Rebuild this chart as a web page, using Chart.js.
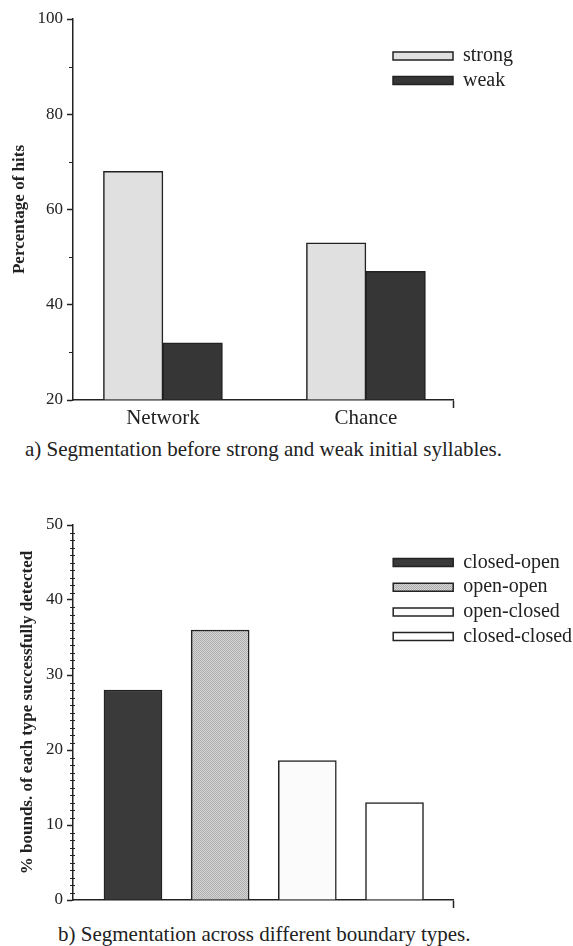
<!DOCTYPE html>
<html>
<head>
<meta charset="utf-8">
<script src="https://cdn.jsdelivr.net/npm/chart.js@4.4.1/dist/chart.umd.min.js"></script>
<style>
  body { margin: 0; background: #fff; }
  #page { position: relative; width: 573px; height: 946px; overflow: hidden; font-family: 'Liberation Serif', 'Times New Roman', serif; color: #222; }
  canvas { position: absolute; left: 0; }
  .caption { position: absolute; font-size: 21px; line-height: 25px; white-space: nowrap; z-index: 2; }
</style>
</head>
<body>
<div id="page">
  <canvas id="hitsChart" width="573" height="436" style="top:0"></canvas>
  <canvas id="boundsChart" width="573" height="440" style="top:480px"></canvas>
  <div class="caption" style="left:25px; top:437px">a) Segmentation before strong and weak initial syllables.</div>
  <div class="caption" style="left:58px; top:922px">b) Segmentation across different boundary types.</div>
</div>
<script>
// a) hits before strong / weak initial syllables
const hitCategories = ['Network', 'Chance'];
const strongHits = [68, 53];
const weakHits = [32, 47];
const hitTicks = [20, 40, 60, 80, 100];

// b) boundaries detected per type
const boundaryTypes = ['closed-open', 'open-open', 'open-closed', 'closed-closed'];
const boundsDetected = [28, 36, 18.6, 13];
const boundTicks = [0, 10, 20, 30, 40, 50];

const ink = '#222';
Chart.defaults.font.family = "'Liberation Serif', 'Times New Roman', serif";
Chart.defaults.color = ink;
Chart.defaults.animation = false;

// fine grey stipple like the scanned open-open bar
function stipple() {
  const c = document.createElement('canvas');
  c.width = 2; c.height = 2;
  const g = c.getContext('2d');
  g.fillStyle = '#d6d6d6'; g.fillRect(0, 0, 2, 2);
  g.fillStyle = '#adadad';
  g.fillRect(0, 0, 1, 1); g.fillRect(1, 1, 1, 1);
  return g.createPattern(c, 'repeat');
}
const boundFills = ['#3a3a3a', stipple(), '#fbfbfb', '#ffffff'];

// move the legend into the upper right of the plot
const placeLegend = {
  id: 'placeLegend',
  afterLayout(chart, args, opts) {
    const lg = chart.legend;
    lg.left = opts.left; lg.top = opts.top;
    lg.width = 190; lg.height = 120;
    lg.right = lg.left + 190; lg.bottom = lg.top + 120;
  }
};

// small unlabelled ticks on the value axis
const minorTicks = {
  id: 'minorTicks',
  afterDraw(chart, args, opts) {
    const y = chart.scales.y, ctx = chart.ctx, x0 = chart.chartArea.left;
    ctx.save();
    ctx.strokeStyle = ink;
    ctx.lineWidth = 1;
    for (let v = y.min; v <= y.max; v += opts.step) {
      if (v % opts.major === 0) continue;
      const py = Math.round(y.getPixelForValue(v)) + 0.5;
      ctx.beginPath();
      ctx.moveTo(x0 - opts.out, py);
      ctx.lineTo(x0 + opts.inside, py);
      ctx.stroke();
    }
    ctx.restore();
  }
};

function endTickColor(c) {
  return c.tick && c.tick.value === c.scale.max ? ink : 'rgba(0,0,0,0)';
}

function valueAxis(min, max, ticks, title, titlePad) {
  return {
    min: min, max: max,
    afterBuildTicks: s => { s.ticks = ticks.map(v => ({value: v})); },
    afterFit: s => { s.width = 73; },
    ticks: { padding: 4, font: {size: 17} },
    grid: { drawOnChartArea: false, tickLength: 6, tickWidth: 1.5, tickColor: ink },
    border: { color: ink, width: 1.5 },
    title: { display: true, text: title, font: {size: 17, weight: 'bold'}, padding: {top: titlePad, bottom: 0} }
  };
}

function legendOpts(pad) {
  return {
    position: 'chartArea', align: 'start',
    labels: { boxWidth: 60, boxHeight: 8, padding: pad, font: {size: 20}, color: ink }
  };
}

new Chart(document.getElementById('hitsChart'), {
  type: 'bar',
  data: {
    datasets: [
      { label: 'strong', data: hitCategories.map((c, i) => ({x: i, y: strongHits[i]})),
        backgroundColor: '#e0e0e0', borderColor: ink, borderWidth: 1.5, barThickness: 59.5, base: 20 },
      { label: 'weak', data: hitCategories.map((c, i) => ({x: i, y: weakHits[i]})),
        backgroundColor: '#363636', borderColor: ink, borderWidth: 1.5, barThickness: 59.5, base: 20 }
    ]
  },
  options: {
    responsive: false,
    devicePixelRatio: 1,
    layout: { padding: {top: 19, right: 120, bottom: 0, left: 0} },
    scales: {
      x: {
        type: 'linear', min: -0.443, max: 1.429, offset: false,
        afterBuildTicks: s => { s.ticks = hitCategories.map((c, i) => ({value: i})).concat({value: s.max}); },
        afterFit: s => { s.height = 36; },
        ticks: { autoSkip: false, maxRotation: 0, padding: 0, font: {size: 21, lineHeight: 1},
                 callback: v => hitCategories[v] ?? '' },
        grid: { offset: false, drawOnChartArea: false, tickLength: 8, tickWidth: 1.5, tickColor: endTickColor },
        border: { color: ink, width: 1.5 }
      },
      y: valueAxis(20, 100, hitTicks, 'Percentage of hits', 9)
    },
    plugins: {
      legend: legendOpts(4.5),
      tooltip: { enabled: false },
      placeLegend: { left: 388.5, top: 41.5 },
      minorTicks: { step: 10, major: 20, out: 4, inside: 0 }
    }
  },
  plugins: [placeLegend, minorTicks]
});

new Chart(document.getElementById('boundsChart'), {
  type: 'bar',
  data: {
    datasets: boundaryTypes.map((t, i) => ({
      label: t,
      data: [{x: i, y: boundsDetected[i]}],
      backgroundColor: boundFills[i],
      borderColor: ink, borderWidth: 1.5, barThickness: 58, grouped: false
    }))
  },
  options: {
    responsive: false,
    devicePixelRatio: 1,
    layout: { padding: {top: 45, right: 120, bottom: 0, left: 0} },
    scales: {
      x: {
        type: 'linear', min: -0.688, max: 3.671, offset: false,
        afterBuildTicks: s => { s.ticks = [{value: s.max}]; },
        afterFit: s => { s.height = 20; },
        ticks: { autoSkip: false, maxRotation: 0, callback: () => '' },
        grid: { offset: false, drawOnChartArea: false, tickLength: 8, tickWidth: 1.5, tickColor: endTickColor },
        border: { color: ink, width: 1.5 }
      },
      y: valueAxis(0, 50, boundTicks, '% bounds. of each type successfully detected', 17)
    },
    plugins: {
      legend: legendOpts(4.7),
      tooltip: { enabled: false },
      placeLegend: { left: 388.5, top: 67.8 },
      minorTicks: { step: 1, major: 10, out: 3, inside: 2 }
    }
  },
  plugins: [placeLegend, minorTicks]
});
</script>
</body>
</html>
